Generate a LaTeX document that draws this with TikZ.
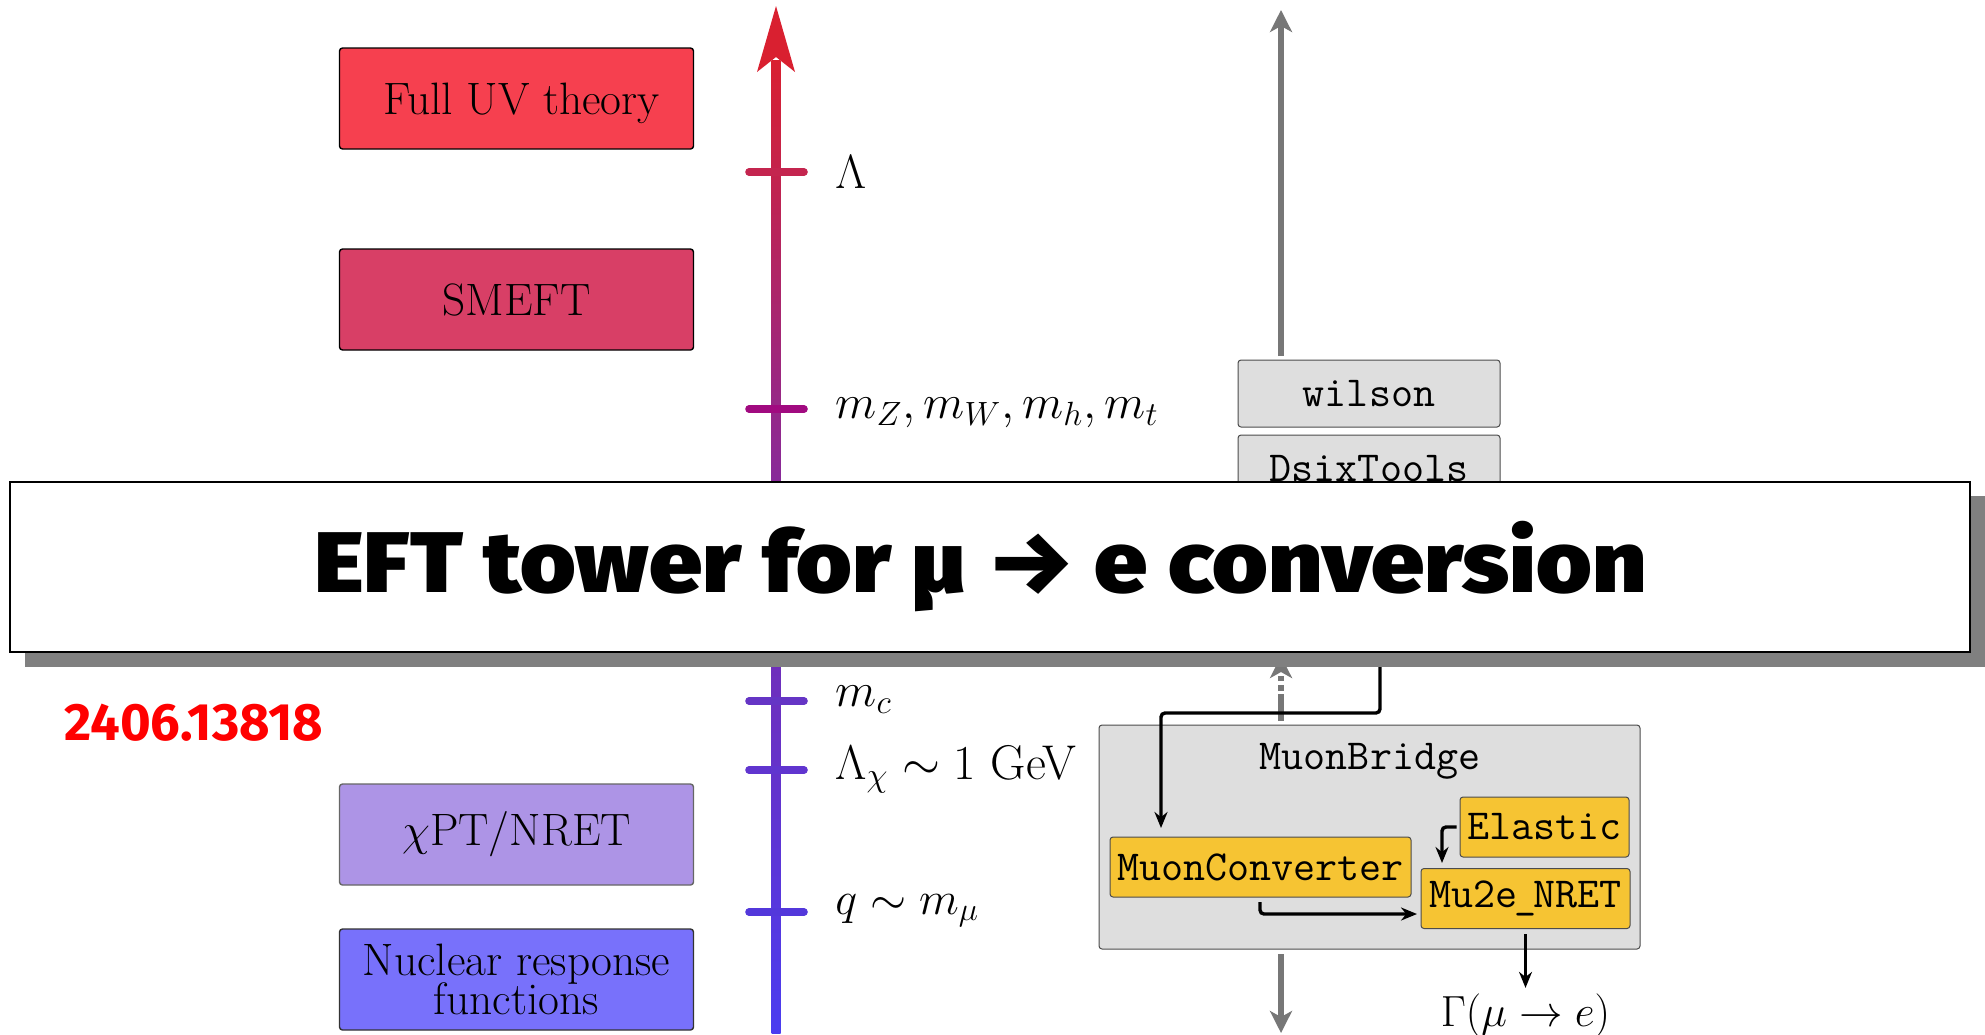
\RequirePackage{fix-cm}
\documentclass[tikz,border=0pt]{standalone}
\usepackage{fontspec}
\usepackage{graphicx}
\usetikzlibrary{arrows.meta,calc}
\newfontfamily\bannerfont{Fira Sans Black}
\newfontfamily\idfont{Fira Sans}
\definecolor{cUV}{HTML}{F6404F}
\definecolor{cSM}{HTML}{D83F66}
\definecolor{cCH}{HTML}{AD94E6}
\definecolor{cNU}{HTML}{7871FB}
\definecolor{cYE}{HTML}{F6C433}
\definecolor{cGR}{HTML}{DEDEDE}
\definecolor{cAR}{HTML}{777777}
\definecolor{axisred}{HTML}{D92030}
\definecolor{axismid}{HTML}{7B2BAA}
\definecolor{axisblue}{HTML}{4A3CF0}
\tikzset{
  x=0.5pt,y=-0.5pt,
  box/.style={draw=black,line width=0.7pt,rounded corners=1.5pt,inner sep=0pt,align=center,
    font=\fontsize{22.7}{19.6}\selectfont},
  eftbox/.style={box,minimum width=177pt,minimum height=50.5pt},
  softbox/.style={box,draw=black!70,line width=0.5pt,fill=cGR,font=\fontsize{21.4}{24}\selectfont\ttfamily},
  yellowbox/.style={softbox,fill=cYE,minimum height=30pt},
  scalelabel/.style={anchor=base west,inner sep=0pt,font=\fontsize{24}{28}\selectfont},
  tick/.style={line width=3.8pt,line cap=round},
  flow/.style={draw=black,line width=1.7pt,rounded corners=2pt,-{Stealth[length=8pt,width=6.5pt]}},
  grayflow/.style={draw=cAR,line width=3.2pt,-{Stealth[length=11pt,width=11pt,inset=3pt]}},
}
\begin{document}
\begin{tikzpicture}
\useasboundingbox (0,0) rectangle (1985,1034);
% main scale axis
\shade[top color=axisred,bottom color=axisblue,middle color=axismid] (771.5,60) rectangle (780.5,1033);
\fill[axisred] (776,6) -- (795,72) -- (776,57) -- (757,72) -- cycle;
% ticks
\draw[tick,color={rgb,255:red,196;green,37;blue,79}] (749,172) -- (804,172);
\draw[tick,color={rgb,255:red,161;green,10;blue,128}] (749,409) -- (804,409);
\draw[tick,color={rgb,255:red,101;green,53;blue,197}] (749,701) -- (804,701);
\draw[tick,color={rgb,255:red,96;green,53;blue,207}] (749,770) -- (804,770);
\draw[tick,color={rgb,255:red,83;green,56;blue,219}] (749,912) -- (804,912);
% scale labels
\node[scalelabel] (lam) at (835,188) {$\Lambda$};
\node[scalelabel] (mew) at (835,418) {$m_Z, m_W, m_h, m_t$};
\node[scalelabel] (mc) at (835,706) {$m_c$};
\node[scalelabel,font=\fontsize{24.4}{28}\selectfont] (lchi) at (835,779) {$\Lambda_\chi \sim 1$ GeV};
\node[scalelabel,font=\fontsize{23.2}{28}\selectfont] (qmu) at (835,914) {$q \sim m_\mu$};
% EFT boxes
\node[eftbox,fill=cUV,text depth=0pt] (uv) at (516.5,98.5) {\hspace*{5pt}Full UV theory};
\node[eftbox,fill=cSM] (smeft) at (516.5,299.5) {SMEFT};
\node[eftbox,fill=cCH,draw=black!60] (chipt) at (516.5,834.5) {$\chi$PT/NRET};
\node[eftbox,fill=cNU,draw=black!80] (nuc) at (516.5,979.5) {\raisebox{-2.2pt}{Nuclear response}\\[-2pt]\raisebox{-2.2pt}{functions}};
% tool boxes
\node[softbox,minimum width=131pt,minimum height=33.5pt] (wilson) at (1369,393.5) {\raisebox{-0.6pt}{wilson}};
\node[softbox,minimum width=131pt,minimum height=33.5pt] (dsix) at (1369,468.5) {\raisebox{-0.4pt}{DsixTools}};
\node[softbox,minimum width=270.5pt,minimum height=112pt] (mb) at (1369.5,837) {};
\node[inner sep=0pt,font=\fontsize{21.4}{24}\selectfont\ttfamily] (mbl) at (1370,761) {MuonBridge};
\node[yellowbox,minimum width=150.5pt] (mc2) at (1260.5,867) {\raisebox{-0.6pt}{MuonConverter}};
\node[yellowbox,minimum width=84.5pt] (el) at (1544.5,827) {\raisebox{-0.6pt}{Elastic}};
\node[yellowbox,minimum width=104.5pt] (nret) at (1525.5,898.5) {\raisebox{-0.3pt}{Mu2e\kern-1.6pt\_\kern-1.6pt NRET}};
\node[inner sep=0pt,font=\fontsize{21.8}{24}\selectfont] (gam) at (1525.5,1016) {$\Gamma(\mu\to e)$};
% gray axis
\coordinate (wtop) at (1281,360);
\coordinate (rtop) at (1281,10);
\coordinate (mbtop) at (1281,725);
\coordinate (dstip) at (1281,656);
\coordinate (mbbot) at (1281,949);
\coordinate (rbot) at (1281,1033);
\draw[grayflow,shorten <=2pt] (wtop) -- (rtop);
\draw[grayflow,dash pattern=on 13.5pt off 1.5pt on 2.8pt off 2.2pt on 2.3pt off 10pt,shorten <=2pt] (mbtop) -- (dstip);
\draw[grayflow,shorten <=2.5pt] (mbbot) -- (rbot);
% flows
\coordinate (bstart) at (1380,600);
\coordinate (mcin) at (1161,837);
\coordinate (elin) at (1442,869);
\coordinate (mcout) at (1260,897);
\coordinate (nin) at (1421,914);
\draw[flow,shorten >=4.5pt] (bstart) |- (1161,713) -- (mcin);
\draw[flow,shorten <=1.5pt,shorten >=3pt] (el.west) -| (elin);
\draw[flow,shorten <=2.5pt,shorten >=2pt] (mcout) |- (nin);
\draw[flow,shorten <=2.5pt,shorten >=3pt,line width=1.1pt] (nret.south) -- (gam.north);
% banner
\fill[gray] (25,496) rectangle (1985,667);
\node[draw=black,line width=0.6pt,fill=white,inner sep=0pt,minimum width=980pt,minimum height=85pt,
  font=\fontsize{43}{50}\selectfont\bannerfont] (banner) at (990,567) {\hspace*{-9.5pt}\raisebox{2.4pt}{\scalebox{1.108}[1]{EFT tower for µ → e conversion}}};
\node[inner sep=0pt,text=red,font=\fontsize{26.3}{30}\selectfont\idfont\bfseries] (arxiv) at (194,723) {2406.13818};
\end{tikzpicture}
\end{document}
